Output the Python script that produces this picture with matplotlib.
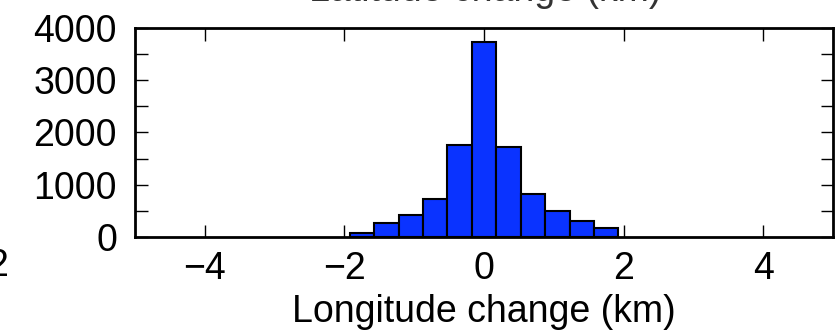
import numpy as np
import matplotlib.pyplot as plt
from matplotlib.ticker import MultipleLocator

plt.rcParams["font.family"] = ["Liberation Sans", "DejaVu Sans"]

# ── Data ───────────────────────────────────────────────────────────────────────

bin_centers = [-1.75, -1.4, -1.05, -0.7, -0.35, 0.0, 0.35, 0.7, 1.05, 1.4, 1.75]
counts      = [80, 260, 420, 730, 1760, 3740, 1720, 820, 500, 300, 170]
bin_width   = 0.35

x_ticks = [-4, -2, 0, 2, 4]
y_ticks = [0, 1000, 2000, 3000, 4000]

FS = 27

# ── Plot ───────────────────────────────────────────────────────────────────────

fig = plt.figure(figsize=(8.38, 3.31), dpi=100)
ax = fig.add_axes([0.1611, 0.284, 0.833, 0.6314])

ax.bar(bin_centers, counts, width=bin_width, color="#0a33ff",
       edgecolor="black", linewidth=1.5, align="center", zorder=2)

ax.set_xlim(-5, 5)
ax.set_ylim(0, 4000)
ax.set_xticks(x_ticks)
ax.set_xticklabels([f"{t}".replace("-", "\u2212") for t in x_ticks])
ax.set_yticks(y_ticks)
ax.yaxis.set_minor_locator(MultipleLocator(500))

ax.tick_params(which="both", direction="in", top=True, right=True,
               width=1.0, color="black")
ax.tick_params(which="major", length=9, labelsize=FS)
ax.tick_params(which="minor", length=9)
ax.tick_params(axis="x", pad=10)
ax.tick_params(axis="y", pad=13)

for spine in ax.spines.values():
    spine.set_linewidth(2.0)

ax.set_xlabel("Longitude change (km)", fontsize=FS, labelpad=5)

# pieces of the neighbouring panels that sit at the edges of the frame
fig.text(0.579, 1.028, "Latitude change (km)", fontsize=FS,
         ha="center", va="center", color="#333333")
fig.text(0.010, 0.195, "2", fontsize=FS, ha="right", va="center")

fig.savefig("out.png", dpi=100)
